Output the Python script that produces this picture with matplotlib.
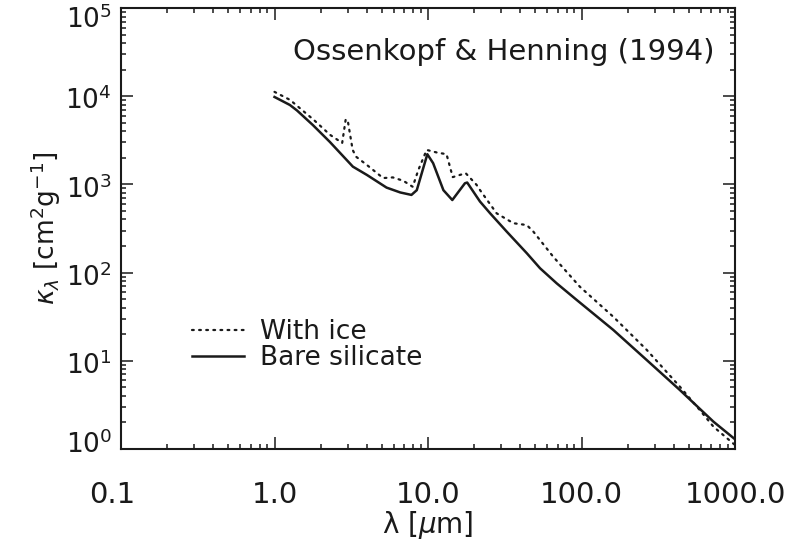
import matplotlib
matplotlib.use("Agg")
import matplotlib.pyplot as plt
from matplotlib.ticker import LogLocator, FixedLocator, FixedFormatter, NullFormatter
from matplotlib.transforms import ScaledTranslation

# opacity data (Ossenkopf & Henning 1994)
wl_bare = [1.0, 1.26, 1.40, 1.78, 2.29, 3.24, 4.0, 5.37, 6.6, 7.8, 8.45, 9.9,
           10.8, 12.6, 14.4, 17.4, 18.0, 21.8, 25.4, 32.6, 44.0, 53.7, 68.9,
           93.0, 161.0, 266.0, 437.0, 724.0, 1000.0]
kappa_bare = [9800, 7950, 6900, 4700, 3040, 1590, 1280, 920, 810, 760, 860, 2200,
              1740, 860, 665, 1030, 1050, 640, 470, 291, 166, 112, 75.6,
              49, 22.4, 10.2, 4.67, 2.04, 1.29]

wl_ice = [1.0, 1.26, 1.8, 2.3, 2.76, 2.91, 3.0, 3.23, 3.4, 4.0, 5.1, 5.9, 6.9,
          7.95, 8.65, 9.8, 11.4, 13.2, 14.5, 17.6, 20.7, 21.8, 28.0, 36.0, 44.0,
          48.6, 65.5, 97.7, 161.0, 266.0, 437.0, 589.0, 724.0, 1000.0]
kappa_ice = [11200, 9100, 5400, 3650, 2950, 5470, 5300, 2460, 2060, 1660, 1180,
             1200, 1100, 940, 1456, 2460, 2300, 2200, 1210, 1340, 990, 864, 470,
             363, 346, 291, 151, 69, 31.6, 13.3, 5.1, 2.77, 1.79, 1.11]

xticks = [0.1, 1.0, 10.0, 100.0, 1000.0]
xtick_labels = ["0.1", "1.0", "10.0", "100.0", "1000.0"]
yticks = [1, 10, 100, 1e3, 1e4, 1e5]

ink = "#1a1a1a"
plt.rcParams["mathtext.fontset"] = "dejavusans"
plt.rcParams["font.family"] = ["DejaVu Sans"]

fig = plt.figure(figsize=(7.85, 5.41), dpi=100)
ax = fig.add_axes([121 / 785, 1 - 449 / 541, 614 / 785, 441 / 541])

ax.plot(wl_ice, kappa_ice, color=ink, lw=1.6, linestyle=(0, (0.8, 2.4)),
        dash_capstyle="round", label="With ice")
ax.plot(wl_bare, kappa_bare, color=ink, lw=1.8, label="Bare silicate")

ax.set_xscale("log")
ax.set_yscale("log")
ax.set_xlim(0.1, 1000)
ax.set_ylim(1, 1e5)

ax.xaxis.set_major_locator(FixedLocator(xticks))
ax.xaxis.set_major_formatter(FixedFormatter(xtick_labels))
ax.xaxis.set_minor_locator(LogLocator(base=10, subs=range(2, 10), numticks=20))
ax.xaxis.set_minor_formatter(NullFormatter())
ax.yaxis.set_major_locator(FixedLocator(yticks))
ax.yaxis.set_minor_locator(LogLocator(base=10, subs=range(2, 10), numticks=20))
ax.yaxis.set_minor_formatter(NullFormatter())

ax.tick_params(which="both", direction="in", top=True, right=True, color=ink,
               labelcolor=ink, width=1.1)
ax.tick_params(which="major", length=8.5)
ax.tick_params(which="minor", length=3.5)
ax.tick_params(axis="x", which="major", labelsize=21, pad=23)
ax.tick_params(axis="y", which="major", labelsize=19, pad=6.5)

for s in ax.spines.values():
    s.set_linewidth(1.5)
    s.set_color(ink)

# IDL keeps the end labels inside the axis range, nudge them like that
def nudge(label, dx, dy):
    label.set_transform(label.get_transform() +
                        ScaledTranslation(dx / 100, dy / 100, fig.dpi_scale_trans))

yt = ax.yaxis.get_major_ticks()
for i, t in enumerate(yt):
    dy = -2
    if i == 0:
        dy = 7
    elif i == len(yt) - 1:
        dy = -9
    nudge(t.label1, 0, dy)
nudge(ax.xaxis.get_major_ticks()[0].label1, -9, 0)

ax.set_xlabel(r"λ [$\mu$m]", fontsize=20, color=ink, labelpad=0)
ax.set_ylabel(r"$\kappa_\lambda$ [cm$^2$g$^{-1}$]", fontsize=19, color=ink,
              labelpad=2)

ax.text(0.967, 0.90, "Ossenkopf & Henning (1994)", transform=ax.transAxes,
        ha="right", va="center", fontsize=21, color=ink)

ax.legend(loc="upper left", bbox_to_anchor=(0.115, 0.294), frameon=False,
          fontsize=19, handlelength=2.0, handletextpad=0.6, labelspacing=0,
          borderpad=0, borderaxespad=0, labelcolor=ink)

fig.savefig("out.png", dpi=100)
